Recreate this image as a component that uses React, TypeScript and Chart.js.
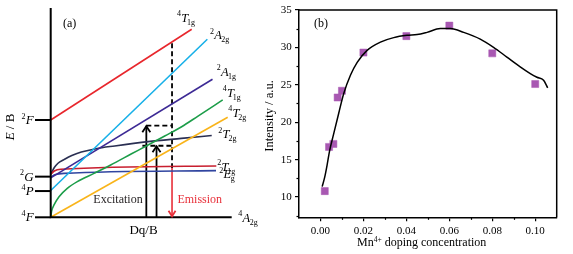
import React, { useEffect, useRef } from 'react';
import { Chart, registerables } from 'chart.js';
Chart.register(...registerables);

// ---------- Panel (a): energy-level diagram, E/B vs Dq/B ----------
const dqMin = 0;
const dqMax = 3;
const eMin = 0;
const eMax = 122;
const termLevels = [56.7, 23.7, 15.3, 0]; // 2F, 2G, 4P, 4F
const termSups = ['2', '2', '4', '4'];
const termNames = ['F', 'G', 'P', 'F'];

const t1gHigh = [{ x: 0, y: 56.7 }, { x: 2.337, y: 109.6 }];
const a2g = [{ x: 0, y: 15.6 }, { x: 2.596, y: 103.8 }];
const a1g = [{ x: 0, y: 23.0 }, { x: 2.682, y: 80.5 }];
const t1gLow = [
  { x: 0, y: 0 }, { x: 0.015, y: 3.6 }, { x: 0.055, y: 7.2 }, { x: 0.138, y: 12.0 },
  { x: 0.275, y: 16.9 }, { x: 0.441, y: 20.8 }, { x: 0.718, y: 25.6 }, { x: 0.994, y: 30.5 },
  { x: 1.34, y: 37.0 }, { x: 1.613, y: 42.1 }, { x: 1.89, y: 47.4 }, { x: 2.17, y: 52.8 },
  { x: 2.442, y: 59.0 }, { x: 2.851, y: 68.4 },
];
const t2gQuartet = [{ x: 0, y: 0 }, { x: 2.934, y: 58.3 }];
const t2gDoublet = [
  { x: 0, y: 25.1 }, { x: 0.06, y: 29.0 }, { x: 0.121, y: 31.5 }, { x: 0.22, y: 33.6 },
  { x: 0.35, y: 36.0 }, { x: 0.507, y: 38.0 }, { x: 0.75, y: 40.0 }, { x: 1.061, y: 41.6 },
  { x: 1.613, y: 44.1 }, { x: 2.165, y: 46.0 }, { x: 2.669, y: 47.7 },
];
const t1gDoublet = [{ x: 0, y: 25.1 }, { x: 0.06, y: 27.0 }, { x: 0.166, y: 28.0 }, { x: 2.745, y: 29.9 }];
const egDoublet = [{ x: 0, y: 23.5 }, { x: 0.08, y: 24.9 }, { x: 0.22, y: 25.6 }, { x: 2.74, y: 27.2 }];

const excitationX = [1.585, 1.754];
const excitationTop = [53.4, 41.7];
const dashedStartX = [1.585, 1.52];
const emissionX = 2.011;
const emissionTop = 28.7;
const dashedTop = 101.4;

// ---------- Panel (b): intensity vs Mn4+ doping ----------
const dopingX = [0.002, 0.004, 0.006, 0.008, 0.010, 0.02, 0.04, 0.06, 0.08, 0.10];
const intensity = [10.8, 16.7, 17.1, 23.3, 24.2, 29.3, 31.5, 32.9, 29.2, 25.1];
const fitX = [0.0008, 0.002, 0.0031, 0.0042, 0.0062, 0.0085, 0.0108, 0.014, 0.0171, 0.0217, 0.0279,
  0.0341, 0.0403, 0.045, 0.0496, 0.0558, 0.0605, 0.0667, 0.0744, 0.0806, 0.0868, 0.093, 0.0977,
  0.1008, 0.1039, 0.1058];
const fitY = [11.4, 12.7, 14.3, 16.1, 18.5, 21.2, 23.8, 26.3, 28.0, 29.6, 30.7, 31.3, 31.6, 31.7,
  32.0, 32.5, 32.5, 32.0, 31.1, 30.0, 28.7, 27.4, 26.5, 26.0, 25.6, 24.6];
const xTicksB = [0, 0.02, 0.04, 0.06, 0.08, 0.10];
const xMinorB = [0.01, 0.03, 0.05, 0.07, 0.09];
const yTicksB = [10, 15, 20, 25, 30, 35];
const yMinorB = [7.5, 12.5, 17.5, 22.5, 27.5, 32.5];

const SERIF = '"Liberation Serif", "Times New Roman", serif';

type Part = { t: string; size: number; italic?: boolean; dy?: number; dx?: number };

function richWidth(ctx: CanvasRenderingContext2D, parts: Part[]) {
  let w = 0;
  for (const p of parts) {
    ctx.font = `${p.italic ? 'italic ' : ''}${p.size}px ${SERIF}`;
    w += ctx.measureText(p.t).width + (p.dx || 0);
  }
  return w;
}

function drawRich(ctx: CanvasRenderingContext2D, x: number, y: number, parts: Part[], color: string) {
  ctx.save();
  ctx.fillStyle = color;
  ctx.textAlign = 'left';
  ctx.textBaseline = 'alphabetic';
  let cx = x;
  for (const p of parts) {
    ctx.font = `${p.italic ? 'italic ' : ''}${p.size}px ${SERIF}`;
    ctx.fillText(p.t, cx, y + (p.dy || 0));
    cx += ctx.measureText(p.t).width + (p.dx || 0);
  }
  ctx.restore();
}

function term(sup: string, main: string, sub?: string, size = 12.5): Part[] {
  const parts: Part[] = [
    { t: sup, size: 8, dy: -5.5, dx: 0.2 },
    { t: main, size, italic: true, dx: main === 'T' ? -1.1 : -0.5 },
  ];
  if (sub) parts.push({ t: sub, size: 8, dy: 3 });
  return parts;
}

const panelAPlugin = {
  id: 'panelA',
  afterDatasetsDraw(chart: any) {
    const ctx: CanvasRenderingContext2D = chart.ctx;
    const xs = chart.scales.x;
    const ys = chart.scales.y;
    const X = (v: number) => xs.getPixelForValue(v);
    const Y = (v: number) => ys.getPixelForValue(v);
    ctx.save();
    ctx.strokeStyle = '#000';
    ctx.lineWidth = 2;
    ctx.beginPath();
    ctx.moveTo(X(dqMin), Y(eMax));
    ctx.lineTo(X(dqMin), Y(eMin));
    ctx.lineTo(X(dqMax), Y(eMin));
    ctx.stroke();
    termLevels.forEach((lv, i) => {
      ctx.beginPath();
      ctx.moveTo(X(dqMin) - 15.7, Y(lv));
      ctx.lineTo(X(dqMin), Y(lv));
      ctx.stroke();
      const parts = term(termSups[i], termNames[i], undefined, 13);
      const w = richWidth(ctx, parts);
      drawRich(ctx, X(dqMin) - 17.5 - w, Y(lv) + 4, parts, '#000');
    });
    ctx.lineWidth = 1.8;
    ctx.lineJoin = 'miter';
    excitationX.forEach((ex, i) => {
      const px = X(ex), py = Y(excitationTop[i]);
      ctx.strokeStyle = '#000';
      ctx.beginPath();
      ctx.moveTo(px - 4, py + 6.5);
      ctx.lineTo(px, py + 0.5);
      ctx.lineTo(px + 4, py + 6.5);
      ctx.stroke();
    });
    {
      const px = X(emissionX), py = Y(eMin);
      ctx.strokeStyle = '#e8303a';
      ctx.beginPath();
      ctx.moveTo(px - 3.5, py - 6.5);
      ctx.lineTo(px, py - 1);
      ctx.lineTo(px + 3.5, py - 6.5);
      ctx.stroke();
    }
    ctx.restore();

    const ends: [any[], Part[], number, number][] = [
      [t1gHigh, term('4', 'T', '1g'), -14.7, -7.6],
      [a2g, term('2', 'A', '2g'), 2.7, 0],
      [a1g, term('2', 'A', '1g'), 4.2, -3.3],
      [t1gLow, term('4', 'T', '1g'), 0, -3.3],
      [t2gQuartet, term('4', 'T', '2g'), 0.6, -0.6],
      [t2gDoublet, term('2', 'T', '2g'), 6.6, 2.8],
      [t1gDoublet, term('2', 'T', '1g'), 1, 4.6],
      [egDoublet, term('2', 'E', 'g'), 3.3, 7.6],
    ];
    ends.forEach(([arr, parts, dx, dy]) => {
      const last = arr[arr.length - 1];
      drawRich(ctx, X(last.x) + dx, Y(last.y) + dy, parts, '#000');
    });
    drawRich(ctx, X(dqMax) + 6.6, Y(eMin) + 4.4, term('4', 'A', '2g'), '#000');

    ctx.save();
    ctx.textBaseline = 'alphabetic';
    ctx.textAlign = 'center';
    ctx.font = `12px ${SERIF}`;
    ctx.fillStyle = '#231f20';
    ctx.fillText('Excitation', 118, 203.3);
    ctx.fillStyle = '#e8303a';
    ctx.fillText('Emission', X(emissionX) + 27.7, 203.3);
    ctx.fillStyle = '#000';
    ctx.font = `13px ${SERIF}`;
    ctx.fillText('Dq/B', 143.5, 234);
    ctx.textAlign = 'left';
    ctx.font = `12px ${SERIF}`;
    ctx.fillText('(a)', 63, 27);
    ctx.translate(13.8, 127);
    ctx.rotate(-Math.PI / 2);
    const parts: Part[] = [{ t: 'E', size: 13, italic: true }, { t: ' / B', size: 13 }];
    const w = richWidth(ctx, parts);
    drawRich(ctx, -w / 2, 0, parts, '#000');
    ctx.restore();
  },
};

const panelBPlugin = {
  id: 'panelB',
  afterDraw(chart: any) {
    const ctx: CanvasRenderingContext2D = chart.ctx;
    const a = chart.chartArea;
    const xs = chart.scales.x;
    const ys = chart.scales.y;
    ctx.save();
    ctx.strokeStyle = '#000';
    ctx.lineWidth = 1.5;
    ctx.beginPath();
    ctx.moveTo(a.left, a.top);
    ctx.lineTo(a.right, a.top);
    ctx.lineTo(a.right, a.bottom);
    ctx.stroke();
    ctx.lineWidth = 1.2;
    xMinorB.forEach((v) => {
      const px = Math.round(xs.getPixelForValue(v)) + 0.5;
      ctx.beginPath();
      ctx.moveTo(px, a.bottom);
      ctx.lineTo(px, a.bottom + 2.5);
      ctx.stroke();
    });
    yMinorB.forEach((v) => {
      const py = Math.round(ys.getPixelForValue(v)) + 0.5;
      ctx.beginPath();
      ctx.moveTo(a.left, py);
      ctx.lineTo(a.left - 2.5, py);
      ctx.stroke();
    });
    ctx.fillStyle = '#000';
    ctx.textBaseline = 'alphabetic';
    ctx.textAlign = 'left';
    ctx.font = `12px ${SERIF}`;
    ctx.fillText('(b)', 56, 27);
    const parts: Part[] = [
      { t: 'Mn', size: 12 },
      { t: '4+', size: 7.5, dy: -4.5 },
      { t: ' doping concentration', size: 12 },
    ];
    const w = richWidth(ctx, parts);
    drawRich(ctx, 163.7 - w / 2, 246, parts, '#000');
    ctx.translate(14.8, 116);
    ctx.rotate(-Math.PI / 2);
    ctx.textAlign = 'center';
    ctx.font = `12.5px ${SERIF}`;
    ctx.fillText('Intensity / a.u.', 0, 0);
    ctx.restore();
  },
};

export default function App() {
  const refA = useRef<HTMLCanvasElement>(null);
  const refB = useRef<HTMLCanvasElement>(null);

  useEffect(() => {
    const line = (data: any[], color: string, smooth = false, width = 1.6) => ({
      data,
      showLine: true,
      borderColor: color,
      backgroundColor: color,
      borderWidth: width,
      pointRadius: 0,
      cubicInterpolationMode: smooth ? 'monotone' : 'default',
      clip: false,
    });
    const dashed = (data: any[]) => ({
      ...line(data, '#000', false, 1.8),
      borderDash: [5, 3],
    });
    const chartA = new Chart(refA.current!, {
      type: 'scatter',
      data: {
        datasets: [
          line(t2gQuartet, '#f9b41a'),
          line(t1gLow, '#1c9d49', true),
          line(a2g, '#17b0e8'),
          line(a1g, '#3d2a95'),
          line(t1gHigh, '#e8262c'),
          line(egDoublet, '#3045a0', true),
          line(t1gDoublet, '#c81e2e', true),
          line(t2gDoublet, '#2a2f52', true),
          dashed([{ x: emissionX, y: dashedTop }, { x: emissionX, y: emissionTop }]),
          dashed([{ x: dashedStartX[0], y: excitationTop[0] }, { x: emissionX, y: excitationTop[0] }]),
          dashed([{ x: dashedStartX[1], y: excitationTop[1] }, { x: emissionX, y: excitationTop[1] }]),
          line([{ x: excitationX[0], y: eMin }, { x: excitationX[0], y: excitationTop[0] }], '#000', false, 1.8),
          line([{ x: excitationX[1], y: eMin }, { x: excitationX[1], y: excitationTop[1] }], '#000', false, 1.8),
          line([{ x: emissionX, y: emissionTop }, { x: emissionX, y: eMin }], '#e8303a', false, 1.6),
        ] as any,
      },
      options: {
        responsive: false,
        animation: false,
        events: [],
        layout: { padding: { left: 50.7, right: 26.3, top: 8, bottom: 36.7 } },
        scales: {
          x: { type: 'linear', display: false, min: dqMin, max: dqMax },
          y: { type: 'linear', display: false, min: eMin, max: eMax },
        },
        plugins: { legend: { display: false }, tooltip: { enabled: false } },
      },
      plugins: [panelAPlugin],
    });

    const tickFont = { family: 'Liberation Serif', size: 11 };
    const chartB = new Chart(refB.current!, {
      type: 'scatter',
      data: {
        datasets: [
          {
            data: fitX.map((x, i) => ({ x, y: fitY[i] })),
            showLine: true,
            borderColor: '#000',
            borderWidth: 1.5,
            pointRadius: 0,
            cubicInterpolationMode: 'monotone',
          },
          {
            data: dopingX.map((x, i) => ({ x, y: intensity[i] })),
            showLine: false,
            pointStyle: 'rect',
            pointRadius: 5,
            backgroundColor: '#a858b2',
            borderColor: '#a858b2',
            borderWidth: 0.5,
          },
        ] as any,
      },
      options: {
        responsive: false,
        animation: false,
        events: [],
        layout: { padding: { left: 0, right: 16.3, top: 9.3, bottom: 0 } },
        scales: {
          x: {
            type: 'linear',
            min: -0.01,
            max: 0.11,
            afterBuildTicks: (s: any) => { s.ticks = xTicksB.map((v) => ({ value: v })); },
            afterFit: (s: any) => { s.height = 36.7; },
            grid: { display: true, drawOnChartArea: false, drawTicks: true, tickLength: 4, color: '#000', lineWidth: 1.2 },
            border: { display: true, color: '#000', width: 1.5 },
            ticks: { color: '#000', font: tickFont, padding: 3, maxRotation: 0, autoSkip: false, callback: (v: any) => Number(v).toFixed(2) },
          },
          y: {
            type: 'linear',
            min: 7.3,
            max: 35,
            afterBuildTicks: (s: any) => { s.ticks = yTicksB.map((v) => ({ value: v })); },
            afterFit: (s: any) => { s.width = 41; },
            grid: { display: true, drawOnChartArea: false, drawTicks: true, tickLength: 4, color: '#000', lineWidth: 1.2 },
            border: { display: true, color: '#000', width: 1.5 },
            ticks: { color: '#000', font: tickFont, padding: 3.3, autoSkip: false, callback: (v: any) => String(v) },
          },
        },
        plugins: { legend: { display: false }, tooltip: { enabled: false } },
      },
      plugins: [panelBPlugin],
    });
    return () => {
      chartA.destroy();
      chartB.destroy();
    };
  }, []);

  return (
    <div style={{ position: 'fixed', left: 0, top: 0, width: 573, height: 254, background: '#fff' }}>
      <canvas ref={refA} width={258} height={254} style={{ position: 'absolute', left: 0, top: 0 }} />
      <canvas ref={refB} width={315} height={254} style={{ position: 'absolute', left: 258, top: 0 }} />
    </div>
  );
}
